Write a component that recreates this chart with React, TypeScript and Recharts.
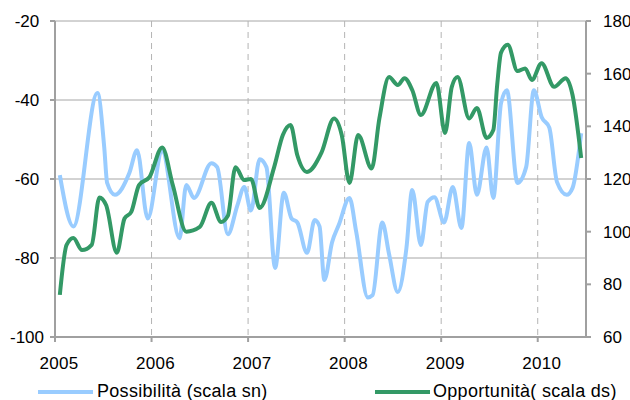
import React from 'react';
import { LineChart, Line, XAxis, YAxis, CartesianGrid } from 'recharts';

// Possibilità (scala sn) - left axis
const possYears = [
  2005.05, 2005.19, 2005.44, 2005.51, 2005.54, 2005.62, 2005.77, 2005.85, 2005.96,
  2006.11, 2006.29, 2006.36, 2006.44, 2006.62, 2006.68, 2006.79, 2006.89, 2006.96,
  2007.03, 2007.12, 2007.19, 2007.28, 2007.37, 2007.45, 2007.51, 2007.61, 2007.69,
  2007.74, 2007.79, 2007.87, 2007.94, 2008.05, 2008.12, 2008.24, 2008.29, 2008.39,
  2008.46, 2008.55, 2008.64, 2008.7, 2008.79, 2008.86, 2008.93, 2009.03, 2009.12,
  2009.21, 2009.29, 2009.37, 2009.47, 2009.54, 2009.62, 2009.68, 2009.79, 2009.88,
  2009.96, 2010.04, 2010.12, 2010.2, 2010.3, 2010.36, 2010.45,
];
const possValues = [
  -59, -72, -38.2, -52, -61, -64, -58.5, -52.7, -70,
  -53, -75, -61.5, -64.8, -56, -57, -74, -66.6, -62,
  -68, -55, -57, -82.5, -63.5, -70, -71, -78.7, -70.4,
  -72, -85.6, -76, -71.6, -64.8, -73.4, -90, -89.4, -71,
  -79, -88.6, -77.5, -62.8, -76.7, -65.8, -64.6, -71, -62,
  -72.4, -50.9, -64, -52, -64.8, -40.8, -37.5, -61, -57,
  -37.5, -44.3, -47, -60.8, -64, -62.3, -48.4,
];

// Opportunità (scala ds) - right axis
const oppYears = [
  2005.05, 2005.12, 2005.19, 2005.28, 2005.38, 2005.46, 2005.53, 2005.64, 2005.72,
  2005.79, 2005.87, 2005.98, 2006.11, 2006.22, 2006.36, 2006.5, 2006.62, 2006.72,
  2006.79, 2006.87, 2006.96, 2007.03, 2007.12, 2007.27, 2007.36, 2007.44, 2007.51,
  2007.61, 2007.76, 2007.89, 2007.97, 2008.05, 2008.14, 2008.28, 2008.36, 2008.46,
  2008.55, 2008.62, 2008.7, 2008.79, 2008.95, 2009.04, 2009.11, 2009.17, 2009.29,
  2009.37, 2009.47, 2009.54, 2009.58, 2009.62, 2009.69, 2009.79, 2009.87, 2009.94,
  2010.04, 2010.17, 2010.29, 2010.36, 2010.45,
];
const oppValues = [
  76, 95, 97.6, 93, 95, 113, 110, 92, 105,
  107.5, 117.7, 120.8, 132, 117.7, 100, 101.8, 111, 103.7,
  106, 124.5, 119.6, 120, 109, 124.5, 136.7, 140.5, 129,
  122.7, 130, 143, 136.7, 118.5, 136.7, 124, 143, 158.7,
  155.7, 158.3, 153.8, 144.3, 156.5, 137.5, 155, 158.7, 143,
  147, 135.6, 138.6, 155.7, 168, 171, 161, 162, 157.6,
  164, 155, 158.3, 152, 128,
];

const yearTicks = [2005, 2006, 2007, 2008, 2009, 2010];
const leftTicks = [-100, -80, -60, -40, -20];
const rightTicks = [60, 80, 100, 120, 140, 160, 180];

const possData = possYears.map((x, i) => ({ x, v: possValues[i] }));
const oppData = oppYears.map((x, i) => ({ x, v: oppValues[i] }));

const FONT = '"Liberation Sans", Arial, sans-serif';
const AXIS = '#a0a0a0';
const BLUE = '#99ccff';
const GREEN = '#339966';

const LeftTick = (props: any) => (
  <text x={27} y={props.y + 6} textAnchor="middle" fontSize={17} fontFamily={FONT} fill="#000">
    {props.payload.value}
  </text>
);

const RightTick = (props: any) => (
  <text x={603} y={props.y + 6} textAnchor="start" fontSize={17} fontFamily={FONT} fill="#000">
    {props.payload.value}
  </text>
);

const YearTick = (props: any) => (
  <text x={props.x + 4} y={369} textAnchor="middle" fontSize={17} fontFamily={FONT} fill="#000" letterSpacing={0.3}>
    {props.payload.value}
  </text>
);

export default function App() {
  return (
    <div style={{ position: 'relative', width: 630, height: 400, background: '#fff' }}>
      <style>{`body{margin:0}`}</style>
      <LineChart width={630} height={400} margin={{ top: 21, right: 0, bottom: 0, left: 0 }}>
        <CartesianGrid yAxisId="left" vertical={false} stroke="#a6a6a6" strokeWidth={1} />
        <CartesianGrid yAxisId="left" horizontal={false} stroke="#b4b4b4" strokeDasharray="6 5" />
        <XAxis
          dataKey="x"
          type="number"
          domain={[2005, 2010.5]}
          ticks={yearTicks}
          height={63}
          allowDuplicatedCategory={false}
          stroke={AXIS}
          strokeWidth={2}
          tickSize={5}
          tick={<YearTick />}
        />
        <YAxis
          yAxisId="left"
          domain={[-100, -20]}
          ticks={leftTicks}
          width={55}
          stroke={AXIS}
          strokeWidth={2}
          tickSize={5}
          tick={<LeftTick />}
        />
        <YAxis
          yAxisId="right"
          orientation="right"
          domain={[60, 180]}
          ticks={rightTicks}
          width={44}
          stroke={AXIS}
          strokeWidth={2}
          tickSize={5}
          tick={<RightTick />}
        />
        <Line
          yAxisId="left"
          data={possData}
          dataKey="v"
          type="monotone"
          stroke={BLUE}
          strokeWidth={4}
          dot={false}
          isAnimationActive={false}
        />
        <Line
          yAxisId="right"
          data={oppData}
          dataKey="v"
          type="monotone"
          stroke={GREEN}
          strokeWidth={4}
          dot={false}
          isAnimationActive={false}
        />
      </LineChart>
      <svg width={630} height={400} style={{ position: 'absolute', left: 0, top: 0, pointerEvents: 'none' }}>
        <line x1={38} x2={93} y1={392} y2={392} stroke={BLUE} strokeWidth={4} />
        <text x={97} y={397} fontSize={18} fontFamily={FONT} letterSpacing={0.3} fill="#000">
          Possibilità (scala sn)
        </text>
        <line x1={375} x2={430} y1={392} y2={392} stroke={GREEN} strokeWidth={4} />
        <text x={433} y={397} fontSize={18} fontFamily={FONT} letterSpacing={0.3} fill="#000">
          Opportunità( scala ds)
        </text>
      </svg>
    </div>
  );
}
